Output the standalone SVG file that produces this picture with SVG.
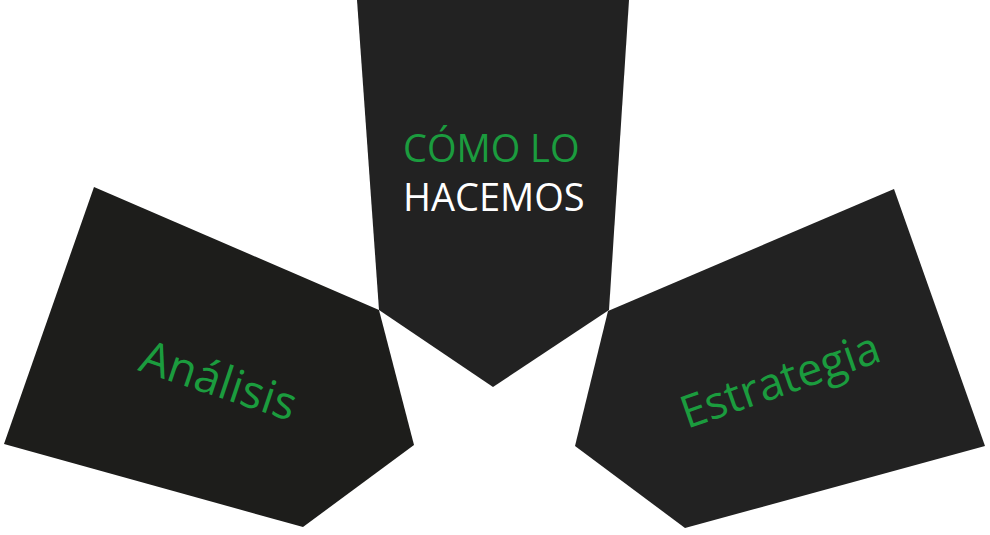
<svg xmlns="http://www.w3.org/2000/svg" width="990" height="535" viewBox="0 0 990 535">
<style>
.shape{fill:#222222;}
.shape-l{fill:#1d1d1b;}
.lbl{font-family:"Open Sans","Noto Sans",sans-serif;}
.green{fill:#1b9c3e;}
.white{fill:#ffffff;}
</style>
<rect width="990" height="535" fill="#ffffff"/>
<g id="node-como">
<polygon class="shape" points="357,0 629,0 609,310 493,387 379,310"/>
<text class="lbl green" x="403" y="162" font-size="38">CÓMO LO</text>
<text class="lbl white" x="403" y="211" font-size="38">HACEMOS</text>
</g>
<g id="node-analisis">
<polygon class="shape-l" points="94,187 379,310 414,445 303,527 4,444"/>
<text class="lbl green" font-size="46" transform="translate(137,370) rotate(18.5)">Análisis</text>
</g>
<g id="node-estrategia">
<polygon class="shape" points="894,189 985,446 685,528 575,446 608,311"/>
<text class="lbl green" font-size="45" transform="translate(687,429) rotate(-19.2)">Estrategia</text>
</g>
<g id="connectors"></g>
</svg>
